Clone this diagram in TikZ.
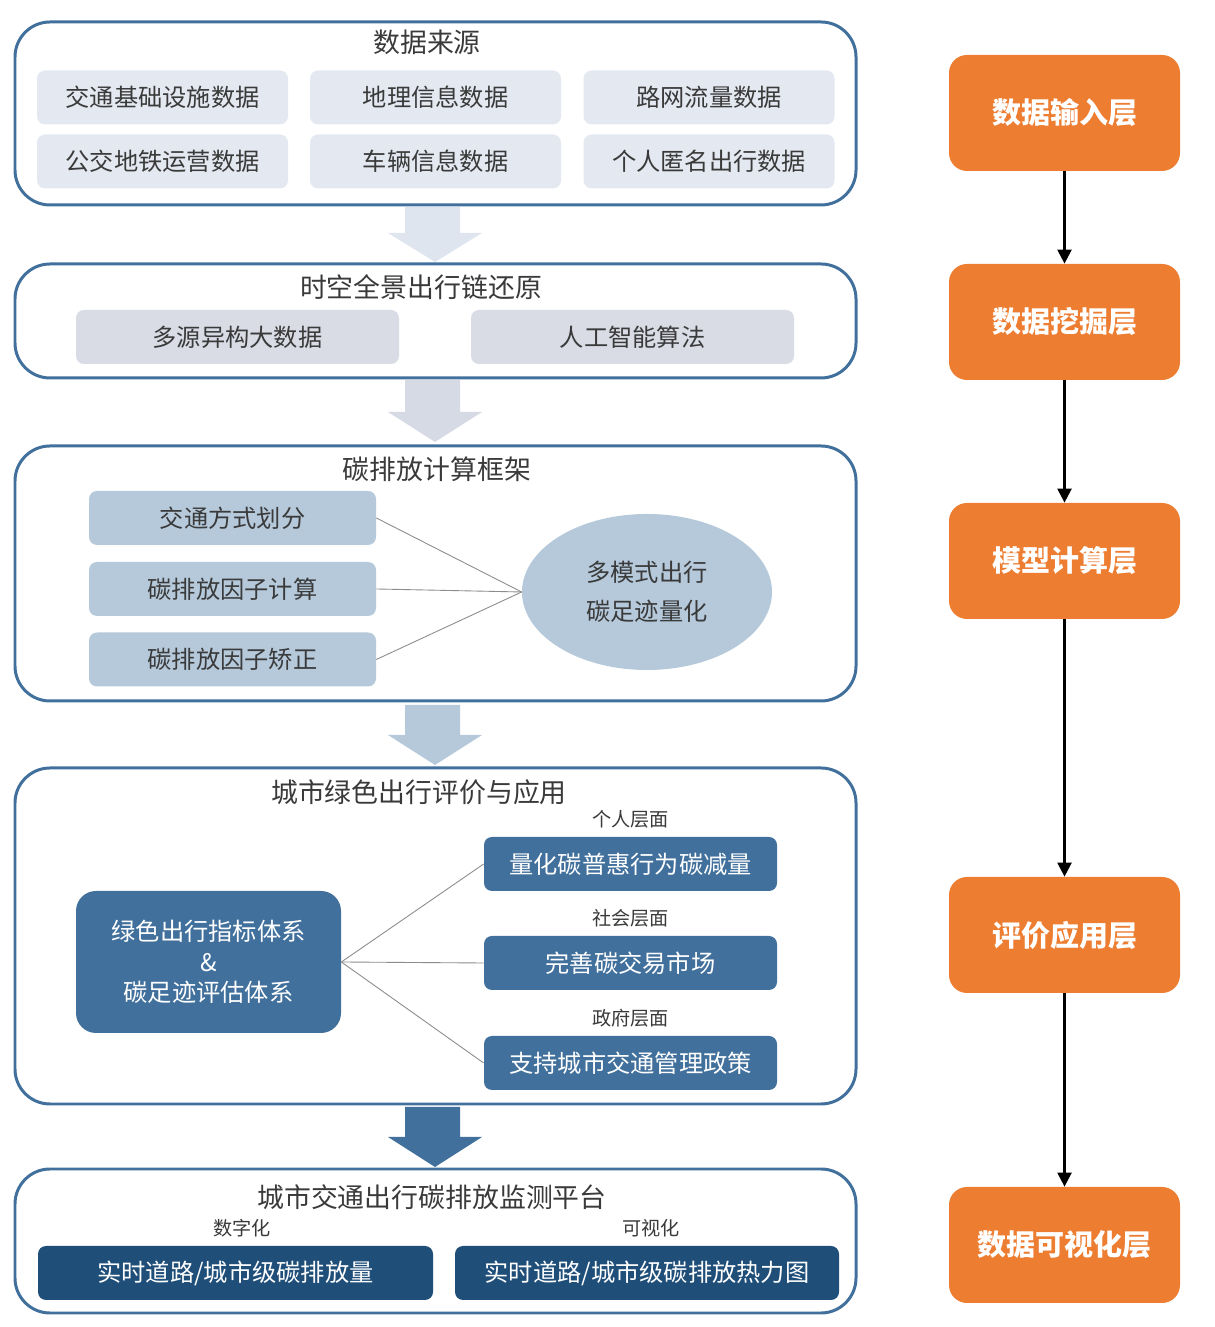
\documentclass[tikz,border=0pt]{standalone}
\usepackage{fontspec}
\setmainfont{Noto Sans CJK SC}
\usetikzlibrary{arrows.meta,positioning,shapes.geometric}
\definecolor{frameblue}{HTML}{41709C}
\definecolor{srcfill}{HTML}{E4E9F1}
\definecolor{chainfill}{HTML}{D9DCE5}
\definecolor{calcfill}{HTML}{B5C9DB}
\definecolor{evalfill}{HTML}{41709C}
\definecolor{platfill}{HTML}{1F4E79}
\definecolor{layerorange}{HTML}{ED7D31}
\definecolor{textgray}{HTML}{3A3A3A}
\definecolor{linkgray}{HTML}{8C8C8C}
\definecolor{arrowone}{HTML}{DFE5EF}
\definecolor{arrowtwo}{HTML}{D5DAE4}

\begin{document}
\begin{tikzpicture}[
    panel/.style={
      draw=frameblue, line width=1.7pt, rounded corners=0.7cm, fill=white,
      minimum width=16.82cm, inner sep=0pt
    },
    ptitle/.style={font=\fontsize{15.3}{18}\selectfont, text=textgray, inner sep=0pt},
    cell/.style={
      fill=#1, rounded corners=0.16cm, minimum height=1.08cm, inner sep=0pt,
      font=\fontsize{13.8}{16}\selectfont, text=textgray
    },
    darkcell/.style={
      fill=#1, rounded corners=0.16cm, minimum height=1.08cm, inner sep=0pt,
      font=\fontsize{13.8}{16}\selectfont, text=white
    },
    tag/.style={font=\fontsize{10.9}{13}\selectfont, text=textgray, inner sep=0pt},
    layer/.style={
      fill=layerorange, rounded corners=0.36cm, minimum width=4.62cm, minimum height=2.32cm,
      font=\fontsize{16.5}{20}\selectfont\bfseries, text=white
    },
    link/.style={draw=linkgray, line width=0.5pt},
    flow/.style={-{Triangle[length=8pt,width=8pt]}, line width=1.3pt, black},
  ]
  \useasboundingbox (0,0) rectangle (24.28,26.54);

  % =================== Panel 1: data sources ===================
  \node[panel, minimum height=3.66cm] (src) at (8.71,24.27) {};
  \node[ptitle] (srcT) at (8.54,25.70) {数据来源};

  \node[cell=srcfill, minimum width=5.02cm] (s11) at (3.25,24.59) {交通基础设施数据};
  \node[cell=srcfill, minimum width=5.02cm] (s12) at (8.71,24.59) {地理信息数据};
  \node[cell=srcfill, minimum width=5.02cm] (s13) at (14.18,24.59) {路网流量数据};
  \node[cell=srcfill, minimum width=5.02cm] (s21) at (3.25,23.31) {公交地铁运营数据};
  \node[cell=srcfill, minimum width=5.02cm] (s22) at (8.71,23.31) {车辆信息数据};
  \node[cell=srcfill, minimum width=5.02cm] (s23) at (14.18,23.31) {个人匿名出行数据};

  % big arrow
  \fill[arrowone] (8.10,22.40) -- (9.20,22.40) -- (9.20,21.88) -- (9.64,21.88)
    -- (8.70,21.30) -- (7.76,21.88) -- (8.10,21.88) -- cycle;

  % =================== Panel 2: travel chain ===================
  \node[panel, minimum height=2.28cm] (chain) at (8.71,20.12) {};
  \node[ptitle] (chainT) at (8.42,20.80) {时空全景出行链还原};

  \node[cell=chainfill, minimum width=6.46cm] (c1) at (4.75,19.80) {多源异构大数据};
  \node[cell=chainfill, minimum width=6.46cm] (c2) at (12.65,19.80) {人工智能算法};

  % big arrow
  \fill[arrowtwo] (8.10,18.94) -- (9.20,18.94) -- (9.20,18.30) -- (9.64,18.30)
    -- (8.70,17.70) -- (7.76,18.30) -- (8.10,18.30) -- cycle;

  % =================== Panel 3: carbon calculation ===================
  \node[panel, minimum height=5.10cm] (calc) at (8.71,15.07) {};
  \node[ptitle] (calcT) at (8.74,17.16) {碳排放计算框架};

  \node[cell=calcfill, minimum width=5.74cm] (k1) at (4.65,16.18) {交通方式划分};
  \node[cell=calcfill, minimum width=5.74cm] (k2) at (4.65,14.76) {碳排放因子计算};
  \node[cell=calcfill, minimum width=5.74cm] (k3) at (4.65,13.35) {碳排放因子矫正};
  \node[ellipse, fill=calcfill, minimum width=5.0cm, minimum height=3.12cm, inner sep=0pt,
    align=center, font=\fontsize{13.8}{22}\selectfont, text=textgray]
    (foot) at (12.94,14.70) {多模式出行\\碳足迹量化};

  \draw[link] (k1.east) -- (foot.west);
  \draw[link] (k2.east) -- (foot.west);
  \draw[link] (k3.east) -- (foot.west);

  % big arrow
  \fill[calcfill] (8.10,12.44) -- (9.20,12.44) -- (9.20,11.84) -- (9.64,11.84)
    -- (8.70,11.24) -- (7.76,11.84) -- (8.10,11.84) -- cycle;

  % =================== Panel 4: evaluation ===================
  \node[panel, minimum height=6.72cm] (eval) at (8.71,7.82) {};
  \node[ptitle] (evalT) at (8.38,10.70) {城市绿色出行评价与应用};

  \node[fill=evalfill, rounded corners=0.4cm, minimum width=5.3cm, minimum height=2.84cm,
    align=center, font=\fontsize{13.8}{17.3}\selectfont, text=white]
    (sys) at (4.17,7.30) {绿色出行指标体系\\\&\\碳足迹评估体系};

  \node[darkcell=evalfill, minimum width=5.86cm] (e1) at (12.61,9.26) {量化碳普惠行为碳减量};
  \node[darkcell=evalfill, minimum width=5.86cm] (e2) at (12.61,7.28) {完善碳交易市场};
  \node[darkcell=evalfill, minimum width=5.86cm] (e3) at (12.61,5.28) {支持城市交通管理政策};

  \node[tag, above=0.17cm of e1] (e1t) {个人层面};
  \node[tag, above=0.17cm of e2] (e2t) {社会层面};
  \node[tag, above=0.17cm of e3] (e3t) {政府层面};

  \draw[link] (sys.east) -- (e1.west);
  \draw[link] (sys.east) -- (e2.west);
  \draw[link] (sys.east) -- (e3.west);

  % big arrow
  \fill[evalfill] (8.10,4.40) -- (9.20,4.40) -- (9.20,3.80) -- (9.64,3.80)
    -- (8.70,3.20) -- (7.76,3.80) -- (8.10,3.80) -- cycle;

  % =================== Panel 5: platform ===================
  \node[panel, minimum height=2.88cm] (plat) at (8.71,1.72) {};
  \node[ptitle] (platT) at (8.64,2.60) {城市交通出行碳排放监测平台};

  \node[darkcell=platfill, minimum width=7.90cm] (m1) at (4.71,1.08) {实时道路/城市级碳排放量};
  \node[darkcell=platfill, minimum width=7.68cm] (m2) at (12.94,1.08) {实时道路/城市级碳排放热力图};

  \node[tag, above=0.17cm of m1, xshift=0.13cm] (m1t) {数字化};
  \node[tag, above=0.17cm of m2, xshift=0.08cm] (m2t) {可视化};

  % =================== Right column: layers ===================
  \node[layer] (o1) at (21.29,24.28) {数据输入层};
  \node[layer] (o2) at (21.29,20.10) {数据挖掘层};
  \node[layer] (o3) at (21.29,15.32) {模型计算层};
  \node[layer] (o4) at (21.29,7.84) {评价应用层};
  \node[layer] (o5) at (21.29,1.64) {数据可视化层};

  \draw[flow] (o1) -- (o2);
  \draw[flow] (o2) -- (o3);
  \draw[flow] (o3) -- (o4);
  \draw[flow] (o4) -- (o5);

\end{tikzpicture}
\end{document}
